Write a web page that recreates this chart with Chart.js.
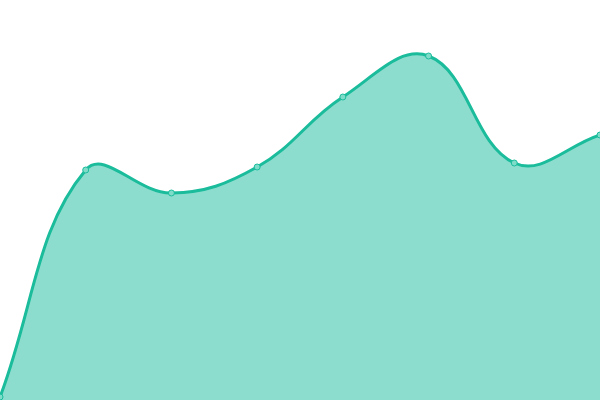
<!DOCTYPE html>
<html>
<head>
<meta charset="utf-8">
<script src="https://cdn.jsdelivr.net/npm/chart.js@4"></script>
<style>
  html, body { margin: 0; padding: 0; background: #fff; }
  #wrap { width: 600px; height: 400px; }
</style>
</head>
<body>
<div id="wrap"><canvas id="chart"></canvas></div>
<script>
// categories and values
const labels = ['1', '2', '3', '4', '5', '6', '7', '8'];
const values = [3, 230, 207, 233, 303, 344, 237, 265];
const yMin = 0;
const yMax = 400;

new Chart(document.getElementById('chart'), {
    type: 'line',
    data: {
        labels: labels,
        datasets: [{
            data: values,
            fill: true,
            backgroundColor: 'rgba(26, 188, 156, 0.5)',
            borderColor: '#1abc9c',
            borderWidth: 3,
            tension: 0.4,
            pointRadius: 3,
            pointBorderWidth: 1,
            pointBackgroundColor: '#7fdcc8',
            pointBorderColor: '#1abc9c'
        }]
    },
    options: {
        responsive: true,
        maintainAspectRatio: false,
        animation: false,
        layout: { padding: 0, autoPadding: false },
        plugins: {
            legend: { display: false },
            tooltip: { enabled: false }
        },
        scales: {
            x: { display: false },
            y: { display: false, min: yMin, max: yMax }
        }
    }
});
</script>
</body>
</html>
